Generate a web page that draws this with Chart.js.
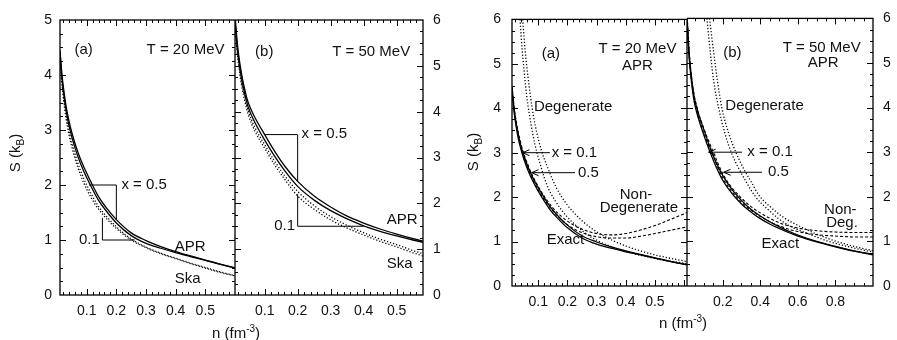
<!DOCTYPE html>
<html>
<head>
<meta charset="utf-8">
<script src="https://cdn.jsdelivr.net/npm/chart.js@4.4.1/dist/chart.umd.min.js"></script>
<style>
  body { margin: 0; background: #fff; font-family: "Liberation Sans", Arial, sans-serif; color: #000; }
  #page { position: relative; width: 897px; height: 340px; overflow: hidden; }
  canvas { position: absolute; top: 0; }
  .title { position: absolute; font-size: 15px; white-space: nowrap; line-height: 1; color: #111; transform: translate(-50%, -50%); }
  .title sup { font-size: 10px; line-height: 0; }
</style>
</head>
<body>
<div id="page">
  <canvas id="la" width="235" height="340" style="left:0"></canvas>
  <canvas id="lb" width="215" height="340" style="left:235px"></canvas>
  <canvas id="ra" width="237" height="340" style="left:450px"></canvas>
  <canvas id="rb" width="210" height="340" style="left:687px"></canvas>
  <div class="title" style="left:236px;top:332px">n (fm<sup>-3</sup>)</div>
  <div class="title" style="left:683px;top:322px">n (fm<sup>-3</sup>)</div>
</div>
<script>
// tick labels
var xTicksA = [0.1, 0.2, 0.3, 0.4, 0.5];
var xTicksB = [0.2, 0.4, 0.6, 0.8];
var yTicks5 = [0, 1, 2, 3, 4, 5];
var yTicks6 = [0, 1, 2, 3, 4, 5, 6];

// T = 20 MeV : APR and Ska, x = 0.5 and x = 0.1
var n20 = [0.01, 0.015, 0.02, 0.03, 0.04, 0.05, 0.07, 0.09, 0.113, 0.14, 0.17, 0.2, 0.25, 0.3, 0.35, 0.4, 0.45, 0.5, 0.55, 0.61];
var apr20x5 = [4.45, 4.1, 3.84, 3.45, 3.17, 2.95, 2.6, 2.33, 2.07, 1.79, 1.56, 1.37, 1.13, 0.99, 0.88, 0.79, 0.71, 0.635, 0.56, 0.48];
var apr20x1 = [4.4, 4.04, 3.77, 3.37, 3.09, 2.87, 2.52, 2.25, 1.99, 1.72, 1.5, 1.31, 1.08, 0.94, 0.85, 0.77, 0.7, 0.628, 0.555, 0.476];
var ska20x5 = [4.35, 3.98, 3.71, 3.3, 3.0, 2.77, 2.4, 2.12, 1.86, 1.61, 1.41, 1.24, 1.02, 0.87, 0.76, 0.67, 0.58, 0.5, 0.42, 0.34];
var ska20x1 = [4.3, 3.92, 3.64, 3.22, 2.92, 2.69, 2.32, 2.04, 1.79, 1.56, 1.37, 1.21, 1.0, 0.86, 0.75, 0.66, 0.57, 0.49, 0.41, 0.335];

// T = 50 MeV : APR and Ska
var n50 = [0.01, 0.015, 0.02, 0.03, 0.04, 0.05, 0.07, 0.1, 0.13, 0.16, 0.2, 0.25, 0.3, 0.35, 0.4, 0.45, 0.5, 0.55, 0.6, 0.7, 0.8, 0.9, 1.0];
var apr50x5 = [6.1, 5.65, 5.3, 4.82, 4.47, 4.2, 3.88, 3.5, 3.14, 2.82, 2.48, 2.16, 1.92, 1.72, 1.57, 1.44, 1.33, 1.23, 1.14, 1.0, 0.89, 0.79, 0.71];
var apr50x1 = [6.0, 5.55, 5.2, 4.72, 4.37, 4.1, 3.77, 3.38, 3.03, 2.72, 2.37, 2.07, 1.84, 1.66, 1.51, 1.39, 1.29, 1.2, 1.12, 0.99, 0.88, 0.78, 0.7];
var ska50x5 = [5.95, 5.5, 5.15, 4.65, 4.3, 4.02, 3.66, 3.28, 2.92, 2.61, 2.26, 1.95, 1.71, 1.52, 1.36, 1.22, 1.1, 0.97, 0.86];
var ska50x1 = [5.85, 5.42, 5.07, 4.57, 4.22, 3.94, 3.58, 3.2, 2.84, 2.53, 2.16, 1.87, 1.64, 1.46, 1.31, 1.17, 1.05, 0.92, 0.81];

// APR, T = 20 MeV : degenerate and non-degenerate limits
var nDeg20a = [0.0375, 0.045, 0.05, 0.06, 0.075, 0.088, 0.1, 0.128, 0.16, 0.2, 0.25, 0.3, 0.4, 0.5, 0.61];
var deg20a = [6.0, 5.3, 4.95, 4.3, 3.65, 3.2, 2.9, 2.3, 1.9, 1.55, 1.25, 1.03, 0.78, 0.62, 0.5];
var nDeg20b = [0.0466, 0.055, 0.065, 0.078, 0.09, 0.111, 0.13, 0.163, 0.2, 0.25, 0.3, 0.35, 0.4, 0.5, 0.61];
var deg20b = [6.0, 5.3, 4.7, 4.05, 3.6, 3.05, 2.7, 2.2, 1.82, 1.47, 1.22, 1.04, 0.9, 0.7, 0.55];
var nNd20 = [0.01, 0.02, 0.04, 0.07, 0.1, 0.15, 0.2, 0.25, 0.3, 0.35, 0.4, 0.45, 0.5, 0.55, 0.61];
var nondeg20a = [4.5, 3.9, 3.22, 2.64, 2.24, 1.76, 1.46, 1.28, 1.18, 1.15, 1.18, 1.26, 1.36, 1.49, 1.65];
var nondeg20b = [4.45, 3.83, 3.14, 2.56, 2.16, 1.69, 1.38, 1.2, 1.11, 1.08, 1.08, 1.12, 1.18, 1.25, 1.33];

// APR, T = 50 MeV : degenerate and non-degenerate limits
var nDeg50a = [0.116, 0.135, 0.152, 0.178, 0.21, 0.245, 0.29, 0.33, 0.375, 0.44, 0.5, 0.56, 0.65, 0.75, 0.85, 1.0];
var deg50a = [6.0, 5.2, 4.6, 4.0, 3.45, 3.0, 2.6, 2.3, 2.0, 1.72, 1.5, 1.34, 1.18, 1.02, 0.9, 0.76];
var nDeg50b = [0.13, 0.153, 0.172, 0.195, 0.23, 0.27, 0.315, 0.35, 0.39, 0.46, 0.53, 0.6, 0.68, 0.77, 0.87, 1.0];
var deg50b = [6.0, 5.2, 4.6, 4.0, 3.45, 3.0, 2.6, 2.35, 2.05, 1.75, 1.52, 1.36, 1.2, 1.05, 0.92, 0.79];
var nNd50 = [0.01, 0.02, 0.04, 0.07, 0.1, 0.15, 0.2, 0.25, 0.3, 0.35, 0.4, 0.5, 0.6, 0.7, 0.8, 0.9, 1.0];
var nondeg50a = [6.15, 5.35, 4.5, 3.9, 3.53, 3.0, 2.52, 2.2, 1.97, 1.78, 1.64, 1.42, 1.3, 1.24, 1.21, 1.2, 1.2];
var nondeg50b = [6.05, 5.25, 4.4, 3.8, 3.42, 2.9, 2.42, 2.11, 1.88, 1.7, 1.56, 1.35, 1.22, 1.15, 1.12, 1.1, 1.1];

var FONT = '"Liberation Sans", Arial, sans-serif';
var INK = '#000';

function line(n, s, kind) {
  var d = { data: s.map(function (v, i) { return { x: n[i], y: v }; }),
    borderColor: INK, borderWidth: 1.3, pointRadius: 0, fill: false,
    cubicInterpolationMode: 'monotone' };
  if (kind == 'dot') { d.borderDash = [1.2, 2]; d.borderWidth = 1.3; }
  if (kind == 'dash') { d.borderDash = [3, 2]; d.borderWidth = 1.1; }
  return d;
}

function deco(o) {
  return {
    id: 'deco',
    afterDraw: function (chart) {
      var ctx = chart.ctx, a = chart.chartArea, xs = chart.scales.x, ys = chart.scales.y;
      var X = function (v) { return xs.getPixelForValue(v); };
      var Y = function (v) { return ys.getPixelForValue(v); };
      ctx.save();
      ctx.strokeStyle = INK;
      // inward ticks on all four sides
      ctx.lineWidth = 1;
      ctx.beginPath();
      for (var k = 1; k * o.xMinor < xs.max; k++) {
        var v = k * o.xMinor;
        if (v <= xs.min) continue;
        var r = v / o.xMajor, L = Math.abs(r - Math.round(r)) < 1e-6 ? 6 : 3;
        var px = Math.round(X(v)) + 0.5;
        ctx.moveTo(px, a.bottom); ctx.lineTo(px, a.bottom - L);
        ctx.moveTo(px, a.top); ctx.lineTo(px, a.top + L);
      }
      for (var j = 1; j * 0.25 < ys.max; j++) {
        var w = j * 0.25, Ly = (j % 4 == 0) ? 6 : 3;
        var py = Math.round(Y(w)) + 0.5;
        ctx.moveTo(a.left, py); ctx.lineTo(a.left + Ly, py);
        ctx.moveTo(a.right, py); ctx.lineTo(a.right - Ly, py);
      }
      ctx.stroke();
      // frame
      ctx.lineWidth = 1.3;
      ctx.strokeRect(a.left, a.top, a.right - a.left, a.bottom - a.top);
      // boxes and arrows pointing at the curves
      ctx.lineWidth = 1;
      (o.lines || []).forEach(function (p) {
        ctx.beginPath();
        p.forEach(function (q, i) { if (i) ctx.lineTo(X(q[0]), Y(q[1])); else ctx.moveTo(X(q[0]), Y(q[1])); });
        ctx.stroke();
      });
      (o.arrows || []).forEach(function (p) {
        var x0 = X(p[0][0]), y0 = Y(p[0][1]), x1 = X(p[1][0]), y1 = Y(p[1][1]);
        ctx.beginPath();
        ctx.moveTo(x0, y0); ctx.lineTo(x1, y1);
        ctx.moveTo(x1 + 7, y1 - 3); ctx.lineTo(x1, y1); ctx.lineTo(x1 + 7, y1 + 3);
        ctx.stroke();
      });
      // text
      ctx.fillStyle = '#111';
      ctx.font = '15px ' + FONT;
      ctx.textBaseline = 'middle';
      (o.notes || []).forEach(function (t) {
        ctx.textAlign = t[3] || 'left';
        ctx.fillText(t[0], X(t[1]), Y(t[2]));
      });
      // rotated axis title S (k_B)
      if (o.ytitle) {
        var f1 = '15px ' + FONT, f2 = '10px ' + FONT;
        ctx.translate(o.ytitle[0], o.ytitle[1]);
        ctx.rotate(-Math.PI / 2);
        ctx.textAlign = 'left'; ctx.textBaseline = 'alphabetic';
        ctx.font = f1;
        var w1 = ctx.measureText('S (k').width, w3 = ctx.measureText(')').width;
        ctx.font = f2;
        var w2 = ctx.measureText('B').width;
        var x0 = -(w1 + w2 + w3) / 2;
        ctx.font = f1; ctx.fillText('S (k', x0, 5);
        ctx.font = f2; ctx.fillText('B', x0 + w1, 9);
        ctx.font = f1; ctx.fillText(')', x0 + w1 + w2, 5);
      }
      ctx.restore();
    }
  };
}

function panel(id, o) {
  return new Chart(document.getElementById(id), {
    type: 'line',
    data: { datasets: o.sets },
    options: {
      responsive: false, animation: false, events: [],
      layout: { padding: { top: o.top, left: 0, right: 0, bottom: 0 } },
      plugins: { legend: { display: false }, tooltip: { enabled: false } },
      scales: {
        x: {
          type: 'linear', min: o.xmin, max: o.xmax,
          grid: { display: false, drawTicks: false }, border: { display: false },
          afterBuildTicks: function (s) { s.ticks = o.xt.map(function (v) { return { value: v }; }); },
          afterFit: function (s) { s.height = o.xh; },
          ticks: { color: '#111', font: { size: 14, family: FONT }, padding: 8, maxRotation: 0, autoSkip: false,
            callback: function (v) { return String(v); } }
        },
        y: {
          type: 'linear', position: o.ypos, min: 0, max: o.ymax,
          grid: { display: false, drawTicks: false }, border: { display: false },
          afterBuildTicks: function (s) { s.ticks = o.yt.map(function (v) { return { value: v }; }); },
          afterFit: function (s) { s.width = o.yw; },
          ticks: { color: '#111', font: { size: 14, family: FONT }, padding: o.ypad,
            callback: function (v) { return String(v); } }
        }
      }
    },
    plugins: [deco(o)]
  });
}

// left figure (a): T = 20 MeV
panel('la', {
  top: 20, xh: 45, yw: 60, ypos: 'left', ypad: 8, xmin: 0.01, xmax: 0.6, ymax: 5,
  xt: xTicksA, yt: yTicks5, xMinor: 0.02, xMajor: 0.1, ytitle: [15, 153],
  sets: [line(n20, apr20x5), line(n20, apr20x1), line(n20, ska20x5, 'dot'), line(n20, ska20x1, 'dot')],
  lines: [[[0.108, 2], [0.2, 2], [0.2, 1.37]], [[0.262, 1.0], [0.153, 1.0], [0.153, 1.4]]],
  notes: [['(a)', 0.059, 4.45], ['T = 20 MeV', 0.302, 4.45], ['x = 0.5', 0.217, 2.01],
    ['0.1', 0.144, 1.0, 'right'], ['APR', 0.397, 0.88], ['Ska', 0.397, 0.285]]
});

// left figure (b): T = 50 MeV
panel('lb', {
  top: 20, xh: 45, yw: 27, ypos: 'right', ypad: 10, xmin: 0.01, xmax: 0.58, ymax: 6,
  xt: xTicksA, yt: yTicks6, xMinor: 0.02, xMajor: 0.1,
  sets: [line(n50, apr50x5), line(n50, apr50x1), line(n50, ska50x5, 'dot'), line(n50, ska50x1, 'dot')],
  lines: [[[0.1, 3.5], [0.2, 3.5], [0.2, 2.48]], [[0.4, 1.5], [0.2, 1.5], [0.2, 2.2]]],
  notes: [['(b)', 0.071, 5.3], ['T = 50 MeV', 0.541, 5.3, 'right'], ['x = 0.5', 0.212, 3.51],
    ['0.1', 0.192, 1.5, 'right'], ['APR', 0.47, 1.64], ['Ska', 0.47, 0.69]]
});

// right figure (a): APR, T = 20 MeV
panel('ra', {
  top: 15, xh: 54, yw: 62, ypos: 'left', ypad: 11, xmin: 0.01, xmax: 0.61, ymax: 6,
  xt: xTicksA, yt: yTicks6, xMinor: 0.02, xMajor: 0.1, ytitle: [23, 152],
  sets: [line(n20, apr20x5), line(n20, apr20x1), line(nDeg20a, deg20a, 'dot'), line(nDeg20b, deg20b, 'dot'),
    line(nNd20, nondeg20a, 'dash'), line(nNd20, nondeg20b, 'dash')],
  arrows: [[[0.14, 3.0], [0.046, 3.0]], [[0.226, 2.55], [0.077, 2.55]]],
  notes: [['(a)', 0.112, 5.22], ['T = 20 MeV', 0.44, 5.33, 'center'], ['APR', 0.44, 4.96, 'center'],
    ['Degenerate', 0.085, 4.04], ['x = 0.1', 0.146, 3.0], ['0.5', 0.236, 2.55],
    ['Non-', 0.435, 2.04, 'center'], ['Degenerate', 0.445, 1.75, 'center'], ['Exact', 0.129, 1.03]]
});

// right figure (b): APR, T = 50 MeV
panel('rb', {
  top: 15, xh: 54, yw: 24, ypos: 'right', ypad: 10, xmin: 0.01, xmax: 1.0, ymax: 6,
  xt: xTicksB, yt: yTicks6, xMinor: 0.05, xMajor: 0.2,
  sets: [line(n50, apr50x5), line(n50, apr50x1), line(nDeg50a, deg50a, 'dot'), line(nDeg50b, deg50b, 'dot'),
    line(nNd50, nondeg50a, 'dash'), line(nNd50, nondeg50b, 'dash')],
  arrows: [[[0.303, 3.0], [0.125, 3.0]], [[0.409, 2.55], [0.205, 2.55]]],
  notes: [['(b)', 0.203, 5.22], ['T = 50 MeV', 0.727, 5.33, 'center'], ['APR', 0.735, 5.0, 'center'],
    ['Degenerate', 0.214, 4.04], ['x = 0.1', 0.331, 3.0], ['0.5', 0.441, 2.55],
    ['Non-', 0.826, 1.7, 'center'], ['Deg.', 0.835, 1.42, 'center'], ['Exact', 0.507, 0.94, 'center']]
});
</script>
</body>
</html>
